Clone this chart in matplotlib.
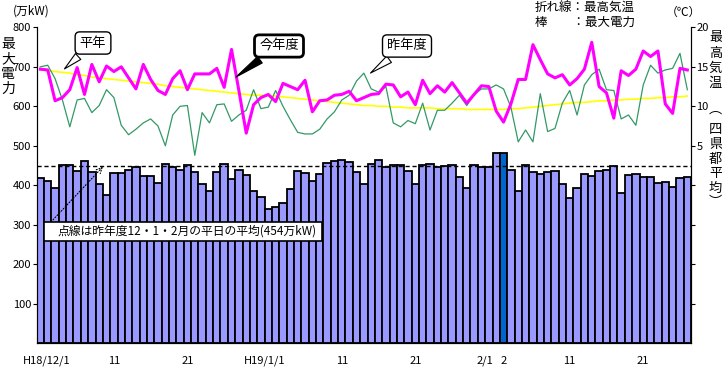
"""Daily peak power and max temperature, Dec 2006 - Feb 2007."""

import numpy as np
import matplotlib
matplotlib.use("Agg")
import matplotlib.pyplot as plt
from matplotlib.patches import Rectangle
from matplotlib.transforms import ScaledTranslation

plt.rcParams['font.family'] = ['Noto Sans CJK JP', 'DejaVu Sans']

# daily peak power (万kW), H18/12/1 .. H19/2/27
POWER = [
    418, 410, 392, 451, 451, 435, 461, 433, 403, 375,
    430, 430, 440, 446, 423, 423, 405, 453, 447, 440,
    451, 433, 403, 385, 433, 455, 415, 440, 425, 386,
    371, 339, 345, 354, 390, 435, 430, 410, 428, 456,
    461, 464, 458, 433, 403, 453, 464, 446, 451, 451,
    435, 403, 451, 453, 446, 449, 451, 420, 392, 451,
    446, 446, 481, 481, 440, 385, 451, 433, 428, 433,
    437, 403, 369, 392, 428, 423, 437, 440, 449, 380,
    425, 428, 420, 420, 405, 408, 396, 418, 420,
]
# max temperature this season (今年度)
TEMP_THIS = [
    14.7, 14.6, 10.7, 11.1, 12.1, 14.9, 11.5, 15.3, 13.1, 15.1,
    14.4, 15.0, 13.6, 12.2, 15.3, 13.4, 12.0, 11.5, 13.5, 14.5,
    12.1, 14.1, 14.1, 14.1, 14.8, 12.4, 17.2, 12.0, 6.6, 10.2,
    11.1, 11.5, 10.6, 12.9, 12.5, 12.1, 13.3, 9.3, 10.7, 10.8,
    11.4, 11.5, 11.9, 10.7, 11.1, 11.5, 11.6, 12.8, 12.7, 11.2,
    11.8, 10.2, 13.3, 11.6, 12.6, 11.8, 13.0, 11.7, 10.4, 11.5,
    12.6, 12.5, 9.4, 8.0, 10.3, 13.4, 13.4, 17.8, 15.9, 14.1,
    13.6, 14.0, 12.7, 13.5, 14.7, 18.1, 12.5, 11.7, 8.5, 14.5,
    13.9, 14.7, 17.0, 16.3, 17.0, 10.3, 9.1, 14.8, 14.6,
]
# max temperature last season (昨年度)
TEMP_LAST = [
    15.0, 15.2, 13.5, 10.8, 7.4, 10.8, 11.0, 9.2, 10.1, 12.1,
    11.1, 7.6, 6.4, 7.1, 7.9, 8.4, 7.5, 5.0, 8.9, 10.0,
    10.1, 3.8, 9.2, 7.9, 10.2, 10.3, 8.1, 8.9, 9.5, 12.1,
    9.7, 9.9, 12.0, 10.0, 8.3, 6.7, 6.5, 6.5, 7.1, 8.4,
    9.3, 10.8, 11.4, 13.2, 14.2, 12.2, 11.8, 12.5, 7.9, 7.4,
    8.2, 7.8, 10.4, 7.0, 9.5, 9.5, 10.4, 11.4, 10.1, 11.5,
    12.2, 12.2, 12.7, 12.2, 9.9, 5.5, 7.0, 5.5, 11.6, 6.8,
    7.2, 10.4, 12.0, 8.9, 12.7, 14.0, 14.7, 12.1, 12.0, 8.4,
    8.9, 7.6, 12.7, 15.2, 14.2, 14.6, 14.8, 16.7, 12.1,
]
# normal max temperature (平年)
TEMP_NORMAL = [
    14.6, 14.5, 14.4, 14.3, 14.2, 14.0, 13.9, 13.7, 13.6, 13.5,
    13.4, 13.3, 13.2, 13.1, 13.0, 12.9, 12.8, 12.6, 12.5, 12.4,
    12.3, 12.2, 12.1, 12.0, 11.9, 11.8, 11.7, 11.6, 11.5, 11.4,
    11.4, 11.3, 11.3, 11.2, 11.1, 11.0, 10.9, 10.8, 10.7, 10.6,
    10.5, 10.4, 10.3, 10.2, 10.1, 10.1, 10.0, 10.0, 9.9, 9.9,
    9.8, 9.8, 9.8, 9.8, 9.7, 9.7, 9.7, 9.7, 9.6, 9.6,
    9.6, 9.6, 9.6, 9.6, 9.7, 9.7, 9.8, 9.9, 10.0, 10.1,
    10.2, 10.3, 10.4, 10.5, 10.5, 10.6, 10.7, 10.7, 10.8, 10.8,
    10.9, 10.9, 11.0, 11.0, 11.1, 11.1, 11.2, 11.2, 11.3,
]
AVG_POWER = 450
HIGHLIGHT_DAY = 63
XTICK_DAYS = [0, 10, 20, 31, 41, 51, 62, 63, 72, 82]
XTICK_LABELS = ['H18/12/1', '11', '21', 'H19/1/1', '11', '21',
                '2/1', '2', '11', '21']
TEMP_TICKS = [-15, -10, -5, 0, 5, 10, 15, 20]


def fpx(x, y):
    """Image pixel (from top-left) to figure fraction."""
    return x / 722., 1 - y / 368.


def vtext(fig, x, y0, chars, step=15, size=9.5):
    """Write characters top to bottom, one per cell."""
    for k, ch in enumerate(chars):
        fig.text(*fpx(x, y0 + k * step), ch, fontsize=size, ha='center',
                 va='center')


def main():
    """Go Main Go."""
    fig = plt.figure(figsize=(7.22, 3.68), dpi=100)
    ax = fig.add_axes([36.7 / 722, 1 - 343.3 / 368,
                       (691 - 36.7) / 722, (343.3 - 27.3) / 368])
    days = np.arange(len(POWER))
    colors = ['#9999ff'] * len(POWER)
    colors[HIGHLIGHT_DAY] = '#0066cc'
    ax.bar(days, POWER, width=1.0, color=colors, edgecolor='black',
           linewidth=1.3)
    ax.axhline(AVG_POWER, color='black', ls=(0, (3, 2)), lw=1)
    ax.set_xlim(-0.5, len(POWER) - 0.5)
    ax.set_ylim(0, 800)
    ax.set_yticks(range(100, 801, 100))
    ax.tick_params(axis='y', direction='out', length=3, pad=1, labelsize=8)
    ax.set_xticks(XTICK_DAYS)
    ax.set_xticklabels(XTICK_LABELS)
    ax.tick_params(axis='x', length=0, pad=9, labelsize=8)
    # nudge a few crowded date labels sideways (pixels)
    nudge = {0: 6, 3: -4, 6: -11}
    for i, lab in enumerate(ax.get_xticklabels()):
        if i in nudge:
            lab.set_transform(lab.get_transform() + ScaledTranslation(
                nudge[i] / 100., 0, fig.dpi_scale_trans))
    ax.spines['top'].set_visible(False)

    ax2 = ax.twinx()
    ax2.plot(days, TEMP_NORMAL, color='#ffff00', lw=1.2)
    ax2.plot(days, TEMP_LAST, color='#339966', lw=0.9)
    ax2.plot(days, TEMP_THIS, color='#ff00ff', lw=2.2)
    ax2.set_ylim(-20, 20)
    ax2.set_yticks(TEMP_TICKS)
    ax2.set_yticklabels([str(t) if t >= 5 else '' for t in TEMP_TICKS])
    ax2.tick_params(axis='y', direction='out', length=3, pad=1, labelsize=8)
    ax2.spines['top'].set_visible(False)

    # callouts
    ax2.annotate('平年', xy=(3, 14.5), xytext=(93, 325),
                 textcoords='figure pixels', ha='center', va='center',
                 fontsize=9.5,
                 bbox=dict(boxstyle='round,pad=0.35', fc='white', ec='black',
                           lw=1),
                 arrowprops=dict(arrowstyle='wedge,tail_width=0.6',
                                 fc='white', ec='black', lw=0.8))
    ax2.annotate('今年度', xy=(26.3, 13.5), xytext=(279, 322),
                 textcoords='figure pixels', ha='center', va='center',
                 fontsize=9.5,
                 bbox=dict(boxstyle='round,pad=0.35', fc='white', ec='black',
                           lw=2),
                 arrowprops=dict(arrowstyle='wedge,tail_width=0.6',
                                 fc='black', ec='black', lw=0.8))
    ax2.annotate('昨年度', xy=(44.6, 14.0), xytext=(407, 322),
                 textcoords='figure pixels', ha='center', va='center',
                 fontsize=9.5,
                 bbox=dict(boxstyle='round,pad=0.35', fc='white', ec='black',
                           lw=1),
                 arrowprops=dict(arrowstyle='wedge,tail_width=0.6',
                                 fc='white', ec='black', lw=0.8))

    # note on the dashed line
    ax.annotate('', xy=(8.5, AVG_POWER - 3), xytext=(51, 368 - 222),
                textcoords='figure pixels',
                arrowprops=dict(arrowstyle='->', ls=':', lw=0.8,
                                shrinkA=0, shrinkB=0))
    fig.add_artist(Rectangle(fpx(44, 241), 278 / 722., 19 / 368.,
                             transform=fig.transFigure, fc='white',
                             ec='black', lw=1.2))
    fig.text(*fpx(57, 231.5), '点線は昨年度12・1・2月の平日の平均(454万kW)',
             fontsize=8.5, va='center', ha='left')

    # header texts
    fig.text(*fpx(535, 8), '折れ線：最高気温', fontsize=9, va='center')
    fig.text(*fpx(535, 22), '棒　　：最大電力', fontsize=9, va='center')
    fig.text(*fpx(31, 11), '(万kW)', fontsize=8.5, ha='center', va='center')
    fig.text(*fpx(683, 12), '（℃）', fontsize=8.5, ha='center', va='center')
    vtext(fig, 8, 44, '最大電力', size=10)
    vtext(fig, 715.5, 38, '最高気温')
    vtext(fig, 715.5, 130, '四県都平均', step=14.5)
    vtext(fig, 715.5, 109, '︵')
    vtext(fig, 715.5, 203, '︶')

    fig.savefig('out.png', dpi=100)


if __name__ == '__main__':
    main()
